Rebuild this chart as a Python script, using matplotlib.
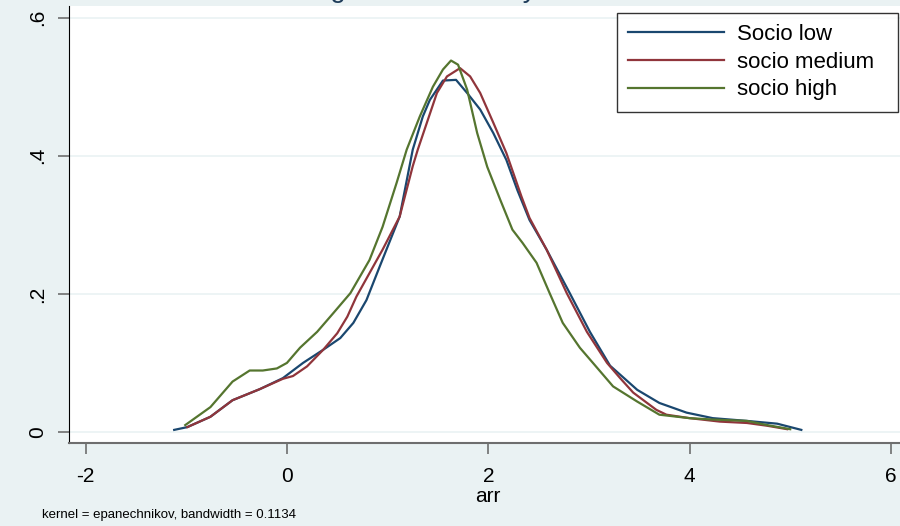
import matplotlib
matplotlib.use("Agg")
import matplotlib.pyplot as plt

plt.rcParams['font.family'] = ['Liberation Sans', 'DejaVu Sans']

# values
x_low = [-1.12, -0.99, -0.76, -0.54, -0.27, -0.04, 0.16, 0.36, 0.53, 0.66, 0.79, 0.92,
         1.12, 1.25, 1.35, 1.42, 1.55, 1.68, 1.79, 1.92, 2.05, 2.18, 2.29, 2.41, 2.58,
         2.81, 3.01, 3.21, 3.48, 3.70, 3.97, 4.23, 4.57, 4.87, 5.11]
y_low = [0.003, 0.007, 0.022, 0.046, 0.062, 0.078, 0.100, 0.119, 0.136, 0.158, 0.191, 0.239,
         0.312, 0.409, 0.457, 0.481, 0.509, 0.510, 0.491, 0.467, 0.433, 0.394, 0.350, 0.307, 0.264,
         0.201, 0.145, 0.096, 0.061, 0.042, 0.028, 0.020, 0.016, 0.012, 0.003]

x_med = [-0.99, -0.76, -0.54, -0.27, -0.04, 0.06, 0.20, 0.36, 0.50, 0.60, 0.69, 0.95,
         1.12, 1.25, 1.30, 1.49, 1.59, 1.72, 1.82, 1.92, 2.05, 2.18, 2.33, 2.41, 2.58,
         2.78, 2.98, 3.18, 3.31, 3.44, 3.67, 3.77, 4.00, 4.30, 4.57, 4.77, 4.97]
y_med = [0.007, 0.022, 0.046, 0.062, 0.077, 0.081, 0.095, 0.119, 0.143, 0.167, 0.196, 0.264,
         0.312, 0.385, 0.409, 0.491, 0.515, 0.527, 0.515, 0.491, 0.448, 0.404, 0.341, 0.310, 0.264,
         0.201, 0.145, 0.100, 0.078, 0.057, 0.032, 0.025, 0.020, 0.015, 0.013, 0.009, 0.004]

x_high = [-1.01, -0.76, -0.54, -0.37, -0.24, -0.10, 0.00, 0.13, 0.30, 0.46, 0.63, 0.82,
          0.95, 1.09, 1.19, 1.32, 1.45, 1.55, 1.63, 1.70, 1.79, 1.89, 1.99, 2.12, 2.24,
          2.34, 2.48, 2.61, 2.74, 2.91, 3.04, 3.24, 3.48, 3.70, 4.00, 4.23, 4.57, 4.77, 5.00]
y_high = [0.010, 0.036, 0.073, 0.089, 0.089, 0.092, 0.100, 0.122, 0.145, 0.172, 0.201, 0.249,
          0.297, 0.361, 0.409, 0.457, 0.500, 0.525, 0.538, 0.532, 0.496, 0.433, 0.384, 0.336, 0.293,
          0.274, 0.245, 0.201, 0.158, 0.122, 0.100, 0.066, 0.044, 0.025, 0.020, 0.018, 0.016, 0.010, 0.004]

labels = ["Socio low", "socio medium", "socio high"]
colors = ["#1a476f", "#90353b", "#55752f"]

bg = "#eaf2f3"
fig = plt.figure(figsize=(9, 5.26), dpi=100, facecolor=bg)
ax = fig.add_axes([69 / 900, 83 / 526, 838 / 900, 437 / 526])
ax.set_facecolor("white")

for xs, ys, lab, c in zip([x_low, x_med, x_high], [y_low, y_med, y_high], labels, colors):
    ax.plot(xs, ys, color=c, lw=1.6, label=lab)

ax.set_xlim(-2.165, 6.16)
ax.set_ylim(-0.016, 0.617)
ax.set_xticks([-2, 0, 2, 4, 6])
ax.set_xticklabels(["-2", "0", "2", "4", "6"])
ax.set_yticks([0, 0.2, 0.4, 0.6])
ax.set_yticklabels(["0", ".2", ".4", ".6"], rotation=90, va="center")
ax.grid(axis="y", color=bg, lw=1.2)
ax.set_axisbelow(True)

for s in ["top", "right"]:
    ax.spines[s].set_visible(False)
ax.spines["left"].set_color("black")
ax.spines["bottom"].set_color("#6e6e6e")
ax.spines["bottom"].set_linewidth(1.5)
ax.tick_params(axis="both", length=8, width=1.2, color="#6e6e6e", labelsize=15)
ax.tick_params(axis="x", pad=9)
ax.tick_params(axis="y", pad=8)

ax.set_xlabel("arr", fontsize=15, labelpad=1)

leg = ax.legend(loc="upper left", mode="expand",
                bbox_to_anchor=((617 - 69) / 838, 1 - 103 / 437, 281 / 838, 96 / 437),
                frameon=True, fancybox=False, fontsize=16, handlelength=4.3,
                handletextpad=0.6, borderpad=0.5, labelspacing=0.3, borderaxespad=0)
leg.get_frame().set_edgecolor("black")
leg.get_frame().set_linewidth(1.0)

fig.text(42 / 900, 1 - 515 / 526, "kernel = epanechnikov, bandwidth = 0.1134",
         fontsize=9.5, va="center", ha="left")
fig.text(410 / 900, 1 + 3 / 526, "Weighted arr density", fontsize=20,
         color="#1e3c5a", ha="center", va="baseline")

fig.savefig("out.png", dpi=100, facecolor=bg)
